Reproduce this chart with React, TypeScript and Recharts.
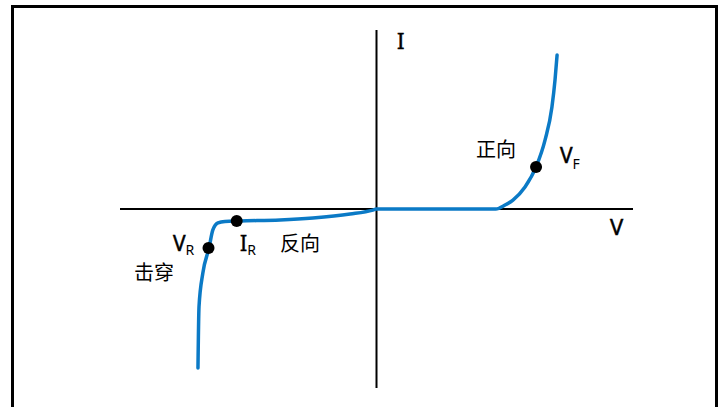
import { LineChart, Line, XAxis, YAxis, ReferenceLine, ReferenceDot } from 'recharts';

// diode I-V curve (V, I in arbitrary units, axes span -10..10)
const voltage = [-6.96, -6.92, -6.77, -6.53, -6.38, -6.18, -5.91, -5.32, -3.76, -2.48, -1.03, -0.14, 0, 4.65, 5.01, 5.32, 5.79, 6.22, 6.57, 6.84, 6.96, 7.04];
const current = [-8.88, -5.47, -3.58, -2.18, -1.17, -0.78, -0.7, -0.67, -0.61, -0.5, -0.28, -0.06, 0, 0, 0.22, 0.5, 1.23, 2.35, 3.85, 5.7, 7.21, 8.6];

// marked points: V_R (breakdown), I_R (reverse leakage), V_F (forward)
const markerNames = ['VR', 'IR', 'VF'];
const markerV = [-6.55, -5.45, 6.22];
const markerI = [-2.18, -0.67, 2.35];

const data = voltage.map((v, i) => ({ v, i: current[i] }));

const BLUE = '#0B7AC6';
const latin = "'Noto Sans', 'Open Sans', sans-serif";
const cjk = "'Noto Sans CJK SC', sans-serif";

// slightly heavier strokes, the original lettering is darker than a plain regular face
const heavy = { stroke: '#000', strokeWidth: 0.5 };

export default function App() {
  return (
    <div style={{ position: 'fixed', left: 0, top: 0, width: 724, height: 407, background: '#fff', overflow: 'hidden' }}>
      <div style={{ position: 'absolute', left: 11, top: 5, width: 701, height: 430, border: '3px solid #000' }} />
      <div style={{ position: 'absolute', left: 0, top: 0 }}>
        <LineChart width={724} height={407} data={data} margin={{ top: 30, right: 91, bottom: 19, left: 120 }}>
          <XAxis dataKey="v" type="number" domain={[-10, 10]} allowDataOverflow hide />
          <YAxis type="number" domain={[-10, 10]} allowDataOverflow hide />
          <ReferenceLine y={0} stroke="#000" strokeWidth={2} />
          <ReferenceLine x={0} stroke="#000" strokeWidth={2} />
          <Line
            type="monotone"
            dataKey="i"
            stroke={BLUE}
            strokeWidth={3.5}
            strokeLinecap="round"
            dot={false}
            activeDot={false}
            isAnimationActive={false}
          />
          {markerNames.map((n, k) => (
            <ReferenceDot key={n} x={markerV[k]} y={markerI[k]} r={6} fill="#000" stroke="none" />
          ))}
        </LineChart>
      </div>
      <svg width={724} height={407} style={{ position: 'absolute', left: 0, top: 0, pointerEvents: 'none' }}>
        <text x={397} y={49} fontFamily={latin} fontSize={22} fill="#000" {...heavy}>I</text>
        <text x={610} y={235} fontFamily={latin} fontSize={22} fill="#000" {...heavy}>V</text>
        <text x={476} y={157} fontFamily={cjk} fontSize={20} fill="#000">正向</text>
        <text x={560} y={163} fontFamily={latin} fontSize={21} fill="#000" {...heavy}>
          V<tspan fontSize={14} dy={6} strokeWidth={0}>F</tspan>
        </text>
        <text x={173} y={251} fontFamily={latin} fontSize={21} fill="#000" {...heavy}>
          V<tspan fontSize={14} dy={4} strokeWidth={0}>R</tspan>
        </text>
        <text x={240} y={251} fontFamily={latin} fontSize={21} fill="#000" {...heavy}>
          I<tspan fontSize={14} dy={4} strokeWidth={0}>R</tspan>
        </text>
        <text x={280} y={251} fontFamily={cjk} fontSize={20} fill="#000">反向</text>
        <text x={134} y={280} fontFamily={cjk} fontSize={20} fill="#000">击穿</text>
      </svg>
    </div>
  );
}
